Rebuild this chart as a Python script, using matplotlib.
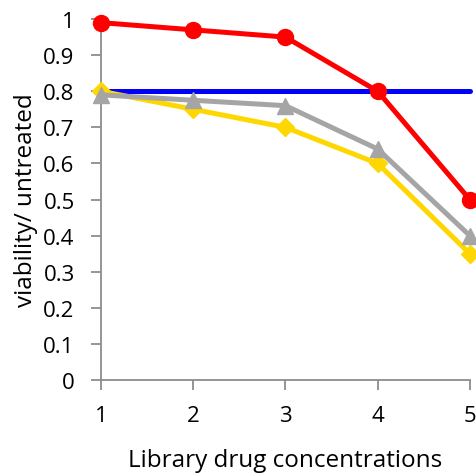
import matplotlib
matplotlib.use("Agg")
import matplotlib.pyplot as plt

# data
concentrations = [1, 2, 3, 4, 5]
red_vals = [0.99, 0.97, 0.95, 0.80, 0.50]
gray_vals = [0.79, 0.775, 0.76, 0.64, 0.40]
yellow_vals = [0.80, 0.75, 0.70, 0.60, 0.35]
blue_vals = [0.80, 0.80, 0.80, 0.80, 0.80]
y_ticks = [0, 0.1, 0.2, 0.3, 0.4, 0.5, 0.6, 0.7, 0.8, 0.9, 1]
y_tick_labels = ["0", "0.1", "0.2", "0.3", "0.4", "0.5", "0.6", "0.7", "0.8", "0.9", "1"]

plt.rcParams['font.family'] = ['Open Sans', 'DejaVu Sans']

fig = plt.figure(figsize=(4.77, 4.77), dpi=100)
ax = fig.add_axes([0.212, 0.201, 0.773, 0.757])

ax.plot(concentrations, blue_vals, color='#0000FF', lw=3.6, solid_capstyle='round', clip_on=False, zorder=2)
ax.plot(concentrations, yellow_vals, color='#FFD700', lw=3.6, marker='D', ms=9, clip_on=False, zorder=3)
ax.plot(concentrations, gray_vals, color='#A5A5A5', lw=3.6, marker='^', ms=11, clip_on=False, zorder=4)
ax.plot(concentrations, red_vals, color='#FF0000', lw=3.6, marker='o', ms=11.5, clip_on=False, zorder=5)

ax.set_xlim(1, 5)
ax.set_ylim(0, 1)
ax.set_xticks(concentrations)
ax.set_yticks(y_ticks)
ax.set_yticklabels(y_tick_labels)

for s in ['top', 'right']:
    ax.spines[s].set_visible(False)
for s in ['left', 'bottom']:
    ax.spines[s].set_color('#8C8C8C')
    ax.spines[s].set_linewidth(1.3)
ax.tick_params(axis='both', colors='#8C8C8C', width=1.3, length=7, labelsize=16, labelcolor='black')
ax.tick_params(axis='x', pad=11)
ax.tick_params(axis='y', pad=12)

ax.set_xlabel("Library drug concentrations", fontsize=17.5, labelpad=16)
ax.set_ylabel("viability/ untreated", fontsize=17.5, labelpad=4)

fig.savefig("out.png", dpi=100)
